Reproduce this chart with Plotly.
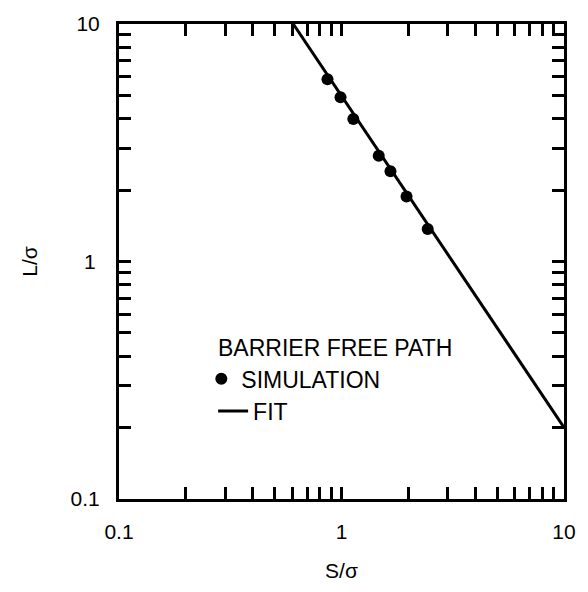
import plotly.graph_objects as go

# Simulation data
sim_S = [0.865, 0.99, 1.13, 1.47, 1.66, 1.96, 2.44]
sim_L = [5.85, 4.92, 3.98, 2.79, 2.40, 1.88, 1.37]

# Fit line endpoints (power law, straight in log-log)
fit_S = [0.607, 10.0]
fit_L = [10.0, 0.2]

decades = [0.1, 1, 10]
x_tick_labels = ["0.1", "1", "10"]
y_tick_labels = ["0.1", "1\u2009", "10"]
tick_vals = [d * m for d in [0.1, 1] for m in range(1, 10)] + [10]
x_tick_text = [x_tick_labels[decades.index(v)] if v in decades else "" for v in tick_vals]
y_tick_text = [y_tick_labels[decades.index(v)] if v in decades else "" for v in tick_vals]

FONT = "Liberation Sans, Arial, Helvetica, sans-serif"

fig = go.Figure()
fig.add_trace(go.Scatter(
    x=fit_S, y=fit_L, mode="lines", name="FIT",
    line=dict(color="black", width=3), legend="legend2",
))
fig.add_trace(go.Scatter(
    x=sim_S, y=sim_L, mode="markers", name="SIMULATION",
    marker=dict(color="black", size=12), legend="legend",
))

axis_common = dict(
    type="log", ticks="inside", ticklen=12, tickwidth=3, tickcolor="black",
    showline=True, linewidth=3, linecolor="black", mirror="allticks",
    showgrid=False, zeroline=False, tickvals=tick_vals,
    tickfont=dict(family=FONT, size=21, color="black"),
)

fig.update_xaxes(range=[-1, 1], ticklabelstandoff=12, ticktext=x_tick_text,
                 title=dict(text="S/σ", font=dict(family=FONT, size=21, color="black"), standoff=22),
                 **axis_common)
fig.update_yaxes(range=[-1, 1], ticklabelstandoff=12, ticktext=y_tick_text,
                 title=dict(text="L/σ", font=dict(family=FONT, size=21, color="black"), standoff=28),
                 **axis_common)

fig.add_annotation(
    text="BARRIER FREE PATH", xref="paper", yref="paper", x=0.2185, y=0.318,
    xanchor="left", yanchor="middle", showarrow=False,
    font=dict(family=FONT, size=23, color="black"),
)

fig.update_layout(
    width=588, height=592,
    margin=dict(l=119, r=16, t=20, b=85),
    paper_bgcolor="white", plot_bgcolor="white",
    showlegend=True,
    legend=dict(x=0.185, y=0.253, xanchor="left", yanchor="middle",
                font=dict(family=FONT, size=23, color="black"),
                bgcolor="rgba(0,0,0,0)", borderwidth=0),
    legend2=dict(x=0.2115, y=0.185, xanchor="left", yanchor="middle",
                 font=dict(family=FONT, size=23, color="black"),
                 bgcolor="rgba(0,0,0,0)", borderwidth=0),
)

fig.write_html("out.html")
